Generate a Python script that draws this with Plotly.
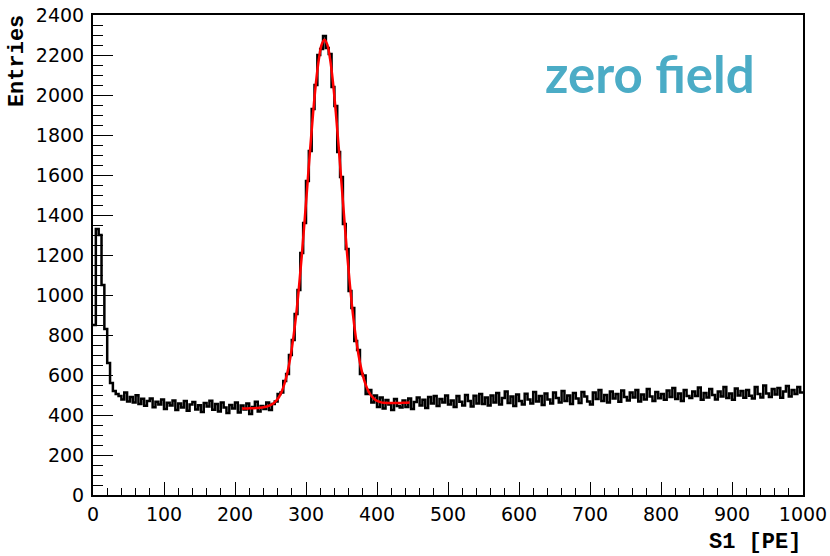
import numpy as np
import plotly.graph_objects as go

# histogram S1 [PE], bins of 4 PE from 0 to 1000
bin_edges = np.arange(0, 1001, 4)
entries = [
    850, 1330, 1300, 1050, 830, 660, 560, 520, 505, 495,
    478, 512, 468, 490, 462, 499, 455, 481, 446, 470,
    483, 439, 466, 452, 478, 430, 461, 447, 472, 425,
    458, 437, 470, 421, 452, 465, 428, 449, 415, 460,
    443, 471, 426, 455, 418, 462, 437, 410, 450, 432,
    462, 412, 448, 428, 457, 405, 440, 466, 418, 445,
    430, 462, 425, 455, 468, 505, 512, 570, 605, 700,
    775, 905, 1025, 1210, 1360, 1570, 1720, 1930, 2050, 2200,
    2230, 2295, 2235, 2205, 2040, 1945, 1715, 1590, 1355, 1230,
    1020, 935, 770, 725, 605, 598, 505, 525, 462, 498,
    440, 488, 432, 475, 452, 425, 480, 445, 438, 472,
    440, 483, 430, 465, 488, 447, 476, 435, 490, 458,
    495, 445, 480, 462, 498, 452, 472, 440, 495, 466,
    448, 500, 470, 442, 496, 458, 505, 455, 487, 448,
    497, 463, 510, 452, 485, 518, 460, 492, 445, 503,
    470, 452, 506, 478, 458, 515, 468, 495, 450, 508,
    478, 458, 512, 485, 462, 520, 470, 498, 455, 510,
    482, 460, 515, 492, 468, 452, 512, 480, 525, 470,
    500, 462, 518, 483, 505, 466, 522, 490, 472, 512,
    488, 525, 468, 502, 478, 530, 492, 470, 515, 484,
    505, 476, 522, 490, 535, 480, 508, 470, 525, 495,
    485, 518, 495, 538, 476, 510, 488, 530, 500, 478,
    518, 492, 540, 485, 508, 476, 532, 498, 520, 486,
    525, 496, 482, 540, 505, 488, 548, 508, 490, 530,
    502, 535, 486, 518, 545, 492, 525, 505, 540, 512,
]

# fit curve (gaus + pol1) sampled between 210 and 450 PE
fit_x = np.arange(210, 451, 4)
fit_y = [
    432, 432.5, 433, 433.5, 434, 434.5, 436, 437.5,
    440, 444, 449, 457, 471, 490, 519, 560, 615, 688,
    782, 897, 1036, 1194, 1370, 1553, 1737, 1909, 2060, 2176,
    2251, 2276, 2252, 2178, 2063, 1913, 1742, 1559, 1377, 1202,
    1045, 907, 793, 700, 628, 573, 534, 506, 488, 475,
    468, 463, 461, 460, 459.5, 459.5, 459.5, 460, 460.5, 461, 461.5, 462,
]

step_x = bin_edges
step_y = entries + [entries[-1]]

fig = go.Figure()
fig.add_trace(go.Scatter(
    x=step_x, y=step_y, mode="lines", line_shape="hv",
    line=dict(color="black", width=2.5), showlegend=False,
))
fig.add_trace(go.Scatter(
    x=fit_x, y=fit_y, mode="lines", line_shape="spline",
    line=dict(color="#ff0000", width=2.5), showlegend=False,
))

tick_font = dict(family="DejaVu Sans", size=19, color="black")
fig.update_xaxes(
    range=[0, 1000], dtick=100, ticks="inside", ticklen=13, tickwidth=1,
    tickcolor="black", showline=True, linecolor="black", linewidth=2,
    mirror=True, showgrid=False, zeroline=False, tickfont=tick_font,
    ticklabelstandoff=1, automargin=False, ticklabeloverflow="allow",
    minor=dict(dtick=20, ticks="inside", ticklen=7, tickcolor="black", tickwidth=1),
)
fig.update_yaxes(
    range=[0, 2400], dtick=200, ticks="inside", ticklen=20, tickwidth=1,
    tickcolor="black", showline=True, linecolor="black", linewidth=2,
    mirror=True, showgrid=False, zeroline=False, tickfont=tick_font,
    ticklabelstandoff=3, automargin=False, ticklabeloverflow="allow",
    minor=dict(dtick=50, ticks="inside", ticklen=10, tickcolor="black", tickwidth=1),
)

fig.add_annotation(
    text="<b>S1 [PE]</b>", xref="paper", yref="paper", x=1.0, y=-0.069,
    xanchor="right", yanchor="top", showarrow=False,
    font=dict(family="Liberation Mono", size=22, color="black"),
)
fig.add_annotation(
    text="<b>Entries</b>", xref="paper", yref="paper", x=-0.107, y=1.004,
    xanchor="center", yanchor="top", textangle=-90, showarrow=False,
    font=dict(family="Liberation Mono", size=22, color="black"),
)
fig.add_annotation(
    text="<b>zero field</b>", xref="paper", yref="paper", x=0.634, y=0.946,
    xanchor="left", yanchor="top", showarrow=False,
    font=dict(family="Lato", size=51, color="#4bacc6"),
)

fig.update_layout(
    width=830, height=556,
    margin=dict(l=93, r=27, t=15, b=61),
    plot_bgcolor="white", paper_bgcolor="white",
)

# drop the default 8px body margin so the figure fills the window
fig.write_html(
    "out.html",
    config={"displayModeBar": False},
    post_script="document.body.style.margin='0';",
)
